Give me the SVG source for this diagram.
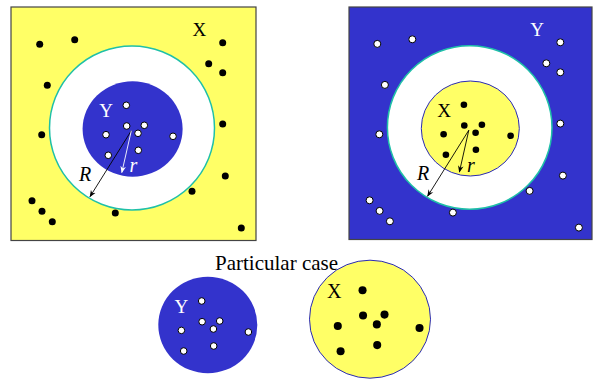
<svg xmlns="http://www.w3.org/2000/svg" xmlns:xlink="http://www.w3.org/1999/xlink" width="593" height="379" viewBox="0 0 593 379">
<style>
.yel{fill:#ffff66}
.blu{fill:#3333cc}
.frame{stroke:#444;stroke-width:1.2}
.ring{fill:#fff;stroke:#1fc0a8;stroke-width:1.5}
.edge{stroke:#2a2ab8;stroke-width:1}
.bd{fill:#000}
.wd{fill:#fff;stroke:#000;stroke-width:1}
.lbl{font-family:"Liberation Serif","Times New Roman",serif;font-size:19px;text-anchor:middle}
.it{font-family:"Liberation Serif","Times New Roman",serif;font-size:20px;font-style:italic;text-anchor:middle}
.big{font-family:"Liberation Serif","Times New Roman",serif;font-size:21px}
.ab{stroke:#000;stroke-width:0.9;fill:none}
.aw{stroke:#fff;stroke-width:0.9;fill:none}
</style>
<defs>
<marker id="hb" viewBox="0 0 10 10" refX="9" refY="5" markerWidth="7" markerHeight="7" markerUnits="userSpaceOnUse" orient="auto"><path d="M0,1 L10,5 L0,9 L3,5 Z" fill="#000"/></marker>
<marker id="hw" viewBox="0 0 10 10" refX="9" refY="5" markerWidth="7" markerHeight="7" markerUnits="userSpaceOnUse" orient="auto"><path d="M0,1 L10,5 L0,9 L3,5 Z" fill="#fff"/></marker>
<g id="outer">
<circle cx="39.7" cy="44.3" r="3.5"/><circle cx="74.7" cy="39.7" r="3.5"/><circle cx="222.7" cy="42.7" r="3.5"/><circle cx="208.7" cy="63.7" r="3.5"/><circle cx="222.7" cy="72.7" r="3.5"/><circle cx="47.3" cy="85.3" r="3.5"/><circle cx="41.7" cy="134.7" r="3.5"/><circle cx="222.7" cy="124" r="3.5"/><circle cx="225.3" cy="176" r="3.5"/><circle cx="192" cy="191.3" r="3.5"/><circle cx="32" cy="200.7" r="3.5"/><circle cx="42" cy="211.3" r="3.5"/><circle cx="52.3" cy="221.7" r="3.5"/><circle cx="115.3" cy="213" r="3.5"/><circle cx="241.3" cy="228" r="3.5"/>
</g>
<g id="inner">
<circle cx="126.3" cy="105.3" r="3.3"/><circle cx="126.7" cy="126" r="3.3"/><circle cx="144.3" cy="125.3" r="3.3"/><circle cx="106" cy="134.7" r="3.3"/><circle cx="138" cy="133.3" r="3.3"/><circle cx="173" cy="136.3" r="3.3"/><circle cx="108.3" cy="155.3" r="3.3"/><circle cx="138.3" cy="150.3" r="3.3"/>
</g>
</defs>

<g id="panel-left">
<rect x="11" y="7" width="245" height="233.5" class="yel frame"/>
<ellipse cx="132" cy="128" rx="82.5" ry="82" class="ring"/>
<ellipse cx="132.6" cy="129" rx="50" ry="47.7" class="blu"/>
<use xlink:href="#outer" class="bd"/>
<use xlink:href="#inner" class="wd"/>
<text x="199.3" y="35.7" class="lbl">X</text>
<text x="106" y="116.7" class="lbl" fill="#fff">Y</text>
<text x="85" y="180.5" class="it">R</text>
<text x="133.5" y="171.7" class="it" fill="#fff">r</text>
</g>

<g id="panel-right">
<rect x="349" y="7" width="243" height="232.5" class="blu frame"/>
<ellipse cx="469.7" cy="127.5" rx="82.3" ry="81.8" class="ring"/>
<ellipse cx="470.3" cy="128.5" rx="49" ry="47.5" class="yel edge"/>
<use xlink:href="#outer" transform="translate(337.6,-0.4)" class="wd"/>
<use xlink:href="#inner" transform="translate(337.6,-0.5)" class="bd"/>
<text x="537" y="35.5" class="lbl" fill="#fff">Y</text>
<text x="444" y="116.8" class="lbl">X</text>
<text x="423" y="180.3" class="it">R</text>
<text x="471" y="171.5" class="it">r</text>
</g>

<g id="connectors">
<line x1="131.3" y1="130.7" x2="90" y2="196.7" class="ab" marker-end="url(#hb)"/>
<line x1="131.3" y1="130.7" x2="121.8" y2="172.5" class="aw" marker-end="url(#hw)"/>
<line x1="468.8" y1="130.2" x2="427.6" y2="196.2" class="ab" marker-end="url(#hb)"/>
<line x1="468.8" y1="130.2" x2="459.4" y2="172" class="ab" marker-end="url(#hb)"/>
</g>

<g id="title">
<text x="215" y="270" class="big">Particular case</text>
</g>

<g id="case-blue">
<ellipse cx="207.8" cy="325" rx="49.5" ry="48.3" class="blu"/>
<use xlink:href="#inner" transform="translate(75.4,195.7)" class="wd"/>
<text x="181.3" y="313.3" class="lbl" fill="#fff">Y</text>
</g>

<g id="case-yellow">
<ellipse cx="370" cy="319.2" rx="60.5" ry="59" class="yel edge"/>
<use xlink:href="#inner" transform="translate(370,319.5) scale(1.22) translate(-132.4,-129.3)" class="bd"/>
<text x="334.2" y="298.3" class="lbl" style="font-size:20px">X</text>
</g>
</svg>
